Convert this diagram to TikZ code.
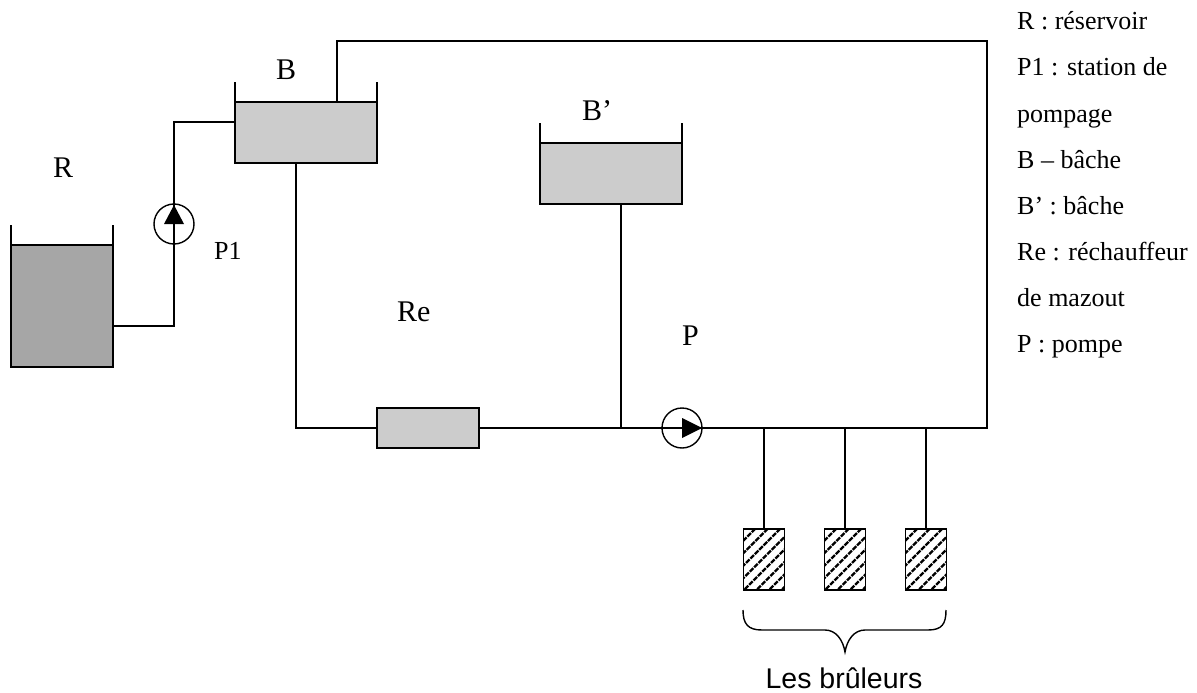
\documentclass[tikz,border=0pt]{standalone}
\usepackage{fontspec}
\setmainfont{Liberation Serif}
\newfontfamily\arialfont{Liberation Sans}
\usetikzlibrary{calc}
\definecolor{lightfill}{HTML}{CCCCCC}
\definecolor{darkfill}{HTML}{A6A6A6}
\tikzset{
  pipe/.style={line width=1.5pt,line join=miter},
  rimline/.style={line width=1.3pt},
  tankbox/.style={draw,line width=1.8pt,inner sep=0pt,outer sep=0pt,minimum width=#1},
  lbl/.style={inner sep=0pt,anchor=base west,font=\fontsize{30}{32}\selectfont},
  smalllbl/.style={inner sep=0pt,anchor=base west,font=\fontsize{26}{28}\selectfont},
  legend/.style={inner sep=0pt,anchor=base west,font=\fontsize{26}{28}\selectfont},
  pumpcircle/.style={circle,draw,line width=1.4pt,minimum size=40pt,inner sep=0pt,outer sep=0pt},
  burner/.style={draw,line width=1.7pt,minimum width=41pt,minimum height=61pt,inner sep=0pt,outer sep=0pt},
}
\begin{document}
\begin{tikzpicture}[x=1pt,y=-1pt]
\useasboundingbox (0,0) rectangle (1197,693);
% junction coordinates
\coordinate (rout) at (113,326);
\coordinate (corner) at (174,122);
\coordinate (bin) at (235,122);
\coordinate (bup) at (337,102);
\coordinate (bdown) at (296,163);
\coordinate (topleft) at (337,41);
\coordinate (topright) at (987,41);
\coordinate (botright) at (987,428);
\coordinate (botleft) at (296,428);
\coordinate (junc) at (621,428);
\coordinate (bpout) at (621,204);
% pipes
\draw[pipe] (rout) -| (corner) -- (bin);
\draw[pipe] (bup) -- (topleft) -- (topright) -- (botright) -- (botleft) -- (bdown);
\draw[pipe] (bpout) -- (junc);
% tanks
\node[tankbox=102pt,minimum height=122pt,fill=darkfill] (R) at (62,306) {};
\node[tankbox=142pt,minimum height=61pt,fill=lightfill] (B) at (306,132.5) {};
\node[tankbox=142pt,minimum height=61pt,fill=lightfill] (Bp) at (611,173.5) {};
\node[tankbox=102pt,minimum height=40pt,fill=lightfill] (Re) at (428,428) {};
% rims
\draw[rimline] (R.north west) -- ++(0,-20) (R.north east) -- ++(0,-20);
\draw[rimline] (B.north west) -- ++(0,-20) (B.north east) -- ++(0,-20);
\draw[rimline] (Bp.north west) -- ++(0,-20) (Bp.north east) -- ++(0,-20);
% burners
\foreach \n/\x in {b1/764,b2/845,b3/926}{
  \node[burner] (\n) at (\x,559.5) {};
  \begin{scope}
    \clip (\n.south west) rectangle (\n.north east);
    \foreach \k in {-8,...,12}{
      \draw[line width=2.4pt,dash pattern=on 5pt off 1.2pt] ($(\n.south west)+(\k*12.5-20,8)$) -- ++(75,-75);
    }
  \end{scope}
  \node[burner] at (\x,559.5) {};
  \coordinate (\n top) at (\x,428);
  \draw[pipe] (\n top) -- (\n.north);
}
% pumps
\node[pumpcircle] (P1) at (174,224) {};
\node[pumpcircle] (P) at (682,428) {};
\fill (P1.center) ++(-10,0) -- ++(20,0) -- (174,205) -- cycle;
\fill (P.center) -- ++(0,-10) -- (702,428) -- (682,438) -- cycle;
% brace
\draw[line width=1.4pt] (743,610) .. controls (743,624) and (748,630) .. (762,630)
  -- (825,630) .. controls (836,630) and (843,640) .. (845,652)
  .. controls (847,640) and (854,630) .. (865,630)
  -- (928,630) .. controls (942,630) and (946,624) .. (946,610);
% labels
\node[lbl] (lR) at (53,177) {R};
\node[lbl] (lB) at (276,80) {B};
\node[lbl] (lBp) at (582,121) {B’};
\node[lbl] (lRe) at (397,321) {Re};
\node[lbl] (lP) at (682,345) {P};
\node[smalllbl] (lP1) at (214,259) {P1};
\node[inner sep=0pt,anchor=base,font=\arialfont\fontsize{28.5}{30}\selectfont] (lbr) at (844,688) {Les brûleurs};
% legend
\node[legend] (t1) at (1017,30) {R : réservoir};
\node[legend] (t2) at (1017,76) {P1 : station de};
\node[legend] (t3) at (1017,122) {pompage};
\node[legend] (t4) at (1017,168) {B – bâche};
\node[legend] (t5) at (1017,214) {B’ : bâche};
\node[legend] (t6) at (1017,260) {Re : réchauffeur};
\node[legend] (t7) at (1017,306) {de mazout};
\node[legend] (t8) at (1017,352) {P : pompe};
\end{tikzpicture}
\end{document}
